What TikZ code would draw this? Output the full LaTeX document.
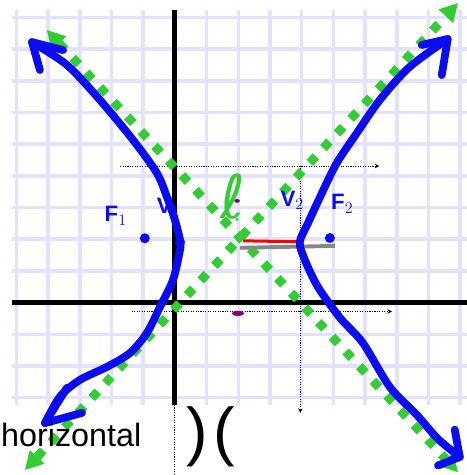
\documentclass[tikz,border=0pt]{standalone}
\usepackage{fontspec}
\setmainfont{Liberation Sans}
\newfontfamily\ellfont{DejaVu Sans}
\usetikzlibrary{arrows.meta}
\definecolor{gridlav}{RGB}{226,226,252}
\definecolor{handblue}{RGB}{12,12,240}
\definecolor{asymgreen}{RGB}{50,205,50}
\definecolor{markpurple}{RGB}{128,0,128}
\definecolor{cgray}{RGB}{135,135,135}
\tikzset{
  gridline/.style={draw=gridlav, line width=3.2pt},
  axisline/.style={draw=black, line width=4.5pt},
  guideline/.style={draw=black, line width=0.9pt, dash pattern=on 1pt off 1.2pt},
  guidearrow/.style={guideline, -{Stealth[length=4pt,width=4pt]}},
  asymline/.style={draw=asymgreen, line width=8pt, dash pattern=on 8pt off 10pt,
    {Triangle[length=16pt,width=18pt,line width=0pt]}-{Triangle[length=16pt,width=18pt,line width=0pt]}},
  branch/.style={draw=handblue, line width=7pt, line cap=round, line join=round},
  handdot/.style={circle, fill=handblue, inner sep=0pt, minimum size=9pt},
  handlabel/.style={text=handblue, font=\bfseries\fontsize{20}{20}\selectfont, inner sep=0pt},
  inklabel/.style={text=black, inner sep=0pt}
}
\begin{document}
\begin{tikzpicture}
  \useasboundingbox (-5.52,-5.44) rectangle (9.21,9.55);
  \fill[white] (-5.52,-5.44) rectangle (9.21,9.55);
  \draw[gridline] (-5.15,-3.23) grid (9.3,9.23);
  \draw[axisline] (-5.15,0) -- (9.3,0);
  \draw[axisline] (0,-3.23) -- (0,9.23);
  \draw[guidearrow] (-1.73,4.31) -- (6.45,4.31);
  \draw[guidearrow] (3.96,4.31) -- (3.96,-3.48);
  \draw[guidearrow] (-1.36,-0.28) -- (6.85,-0.28);
  \draw[guideline] (0,-3.23) -- (0,-5.44);
  \draw[asymline] (-4.04,8.6) -- (8.93,-5.35);
  \draw[asymline] (-4.73,-5.28) -- (8.93,9.45);
  \draw[red, line width=2.7pt] (2.15,1.95) -- (3.94,1.92);
  \draw[cgray, line width=3.5pt] (2.05,1.73) -- (5.05,1.79);
  \fill[markpurple] (1.96,3.21) ellipse (0.09 and 0.06);
  \fill[markpurple] (1.99,-0.34) ellipse (0.2 and 0.08);
  \fill[asymgreen] (1.96,2.63) circle (0.05);
  \draw[branch] plot[smooth] coordinates {(-4.51,8.22) (-3.41,7.50) (-2.37,6.40) (-1.32,5.13)
    (-0.57,4.09) (-0.25,3.33) (0.00,2.61) (0.16,1.98) (0.16,1.66) (-0.06,0.72) (-0.47,-0.13)
    (-0.88,-0.95) (-1.42,-1.59) (-2.15,-2.03) (-3.00,-2.44) (-3.63,-2.97) (-4.10,-3.80)};
  \draw[branch] (-4.26,7.34) -- (-4.51,8.22) -- (-3.53,7.97);
  \draw[branch] (-3.41,-2.69) -- (-4.10,-3.80) -- (-2.93,-3.48);
  \draw[branch] plot[smooth] coordinates {(8.61,8.32) (7.41,7.44) (6.47,6.40) (5.74,5.35)
    (5.11,4.41) (4.64,3.46) (4.20,2.51) (3.94,1.91) (4.10,1.35) (4.51,0.50) (5.21,-0.48)
    (5.93,-1.27) (6.78,-2.66) (7.63,-3.54) (8.30,-4.30) (8.99,-4.87)};
  \draw[branch] (7.79,8.13) -- (8.61,8.32) -- (8.42,7.18);
  \draw[branch] (8.83,-4.01) -- (8.99,-4.87) -- (8.30,-5.14);
  \node[handdot] (focusL) at (-0.95,2.03) {};
  \node[handdot] (focusR) at (4.89,2.04) {};
  \node[handdot] (vertexL) at (0.16,1.91) {};
  \node[handlabel] (fone) at (-1.87,2.74) {F$_1$};
  \node[handlabel] (vone) at (-0.2,3.0) {V$_1$};
  \node[handlabel] (vtwo) at (3.70,3.22) {V$_2$};
  \node[handlabel] (ftwo) at (5.28,3.12) {F$_2$};
  \node[text=asymgreen, inner sep=0pt, font=\ellfont\fontsize{54}{54}\selectfont] (ell) at (1.83,3.36) {ℓ};
  \node[inklabel, anchor=base west, font=\fontsize{29}{29}\selectfont] (horiz) at (-5.49,-4.55) {horizontal};
  \node[inklabel, font=\fontsize{58}{58}\selectfont] (parens) at (1.14,-4.24) {)\hspace{5pt}(};
\end{tikzpicture}
\end{document}
